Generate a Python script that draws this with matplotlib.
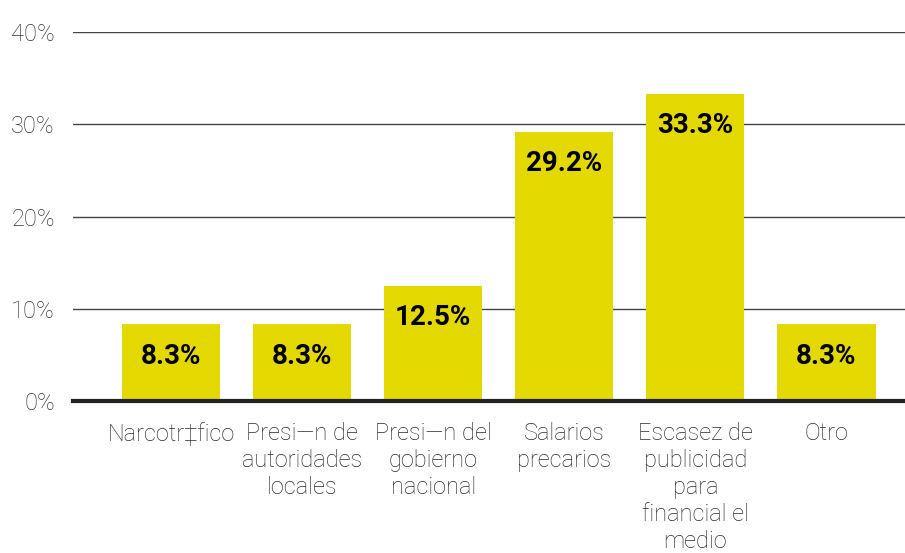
import matplotlib
matplotlib.use("Agg")
import matplotlib.pyplot as plt
import numpy as np

# data
categories = ["Narcotr‡fico", "Presi—n de\nautoridades\nlocales", "Presi—n del\ngobierno\nnacional",
              "Salarios\nprecarios", "Escasez de\npublicidad\npara\nfinancial el\nmedio", "Otro"]
values = [8.3, 8.3, 12.5, 29.2, 33.3, 8.3]
labels = ["8.3%", "8.3%", "12.5%", "29.2%", "33.3%", "8.3%"]
yticks = [0, 10, 20, 30, 40]
ytick_labels = ["0%", "10%", "20%", "30%", "40%"]

plt.rcParams['font.family'] = ['Roboto', 'DejaVu Sans']

fig = plt.figure(figsize=(9.05, 5.53), dpi=100)
ax = fig.add_axes([73/905, 1 - 401/553, 1 - 73/905, 369/553])

x = np.arange(len(categories))
bars = ax.bar(x, values, width=0.75, color="#e3d900", zorder=3)

# value labels inside bars near top
for b, lab in zip(bars, labels):
    ax.annotate(lab, (b.get_x() + b.get_width()/2, b.get_height()),
                xytext=(0, -32), textcoords="offset pixels",
                ha="center", va="center", fontsize=20, fontweight="bold",
                color="black", zorder=4)

ax.set_ylim(0, 40)
ax.set_xlim(-0.75, 5.6)
ax.set_yticks(yticks)
ax.set_yticklabels(ytick_labels, fontsize=17, color="#333333", fontweight="light")
ax.tick_params(axis="y", length=0, pad=13)
ax.yaxis.grid(True, color="#444444", linewidth=1, zorder=0)

ax.set_xticks(x)
ax.set_xticklabels(categories, fontsize=17, color="#2b2b2b", linespacing=1.22,
                   fontweight="light")
ax.tick_params(axis="x", length=0, pad=15)

for s in ["top", "right", "left"]:
    ax.spines[s].set_visible(False)
ax.spines["bottom"].set_color("#222222")
ax.spines["bottom"].set_linewidth(3)
ax.spines["bottom"].set_zorder(5)

fig.savefig("out.png", dpi=100)
